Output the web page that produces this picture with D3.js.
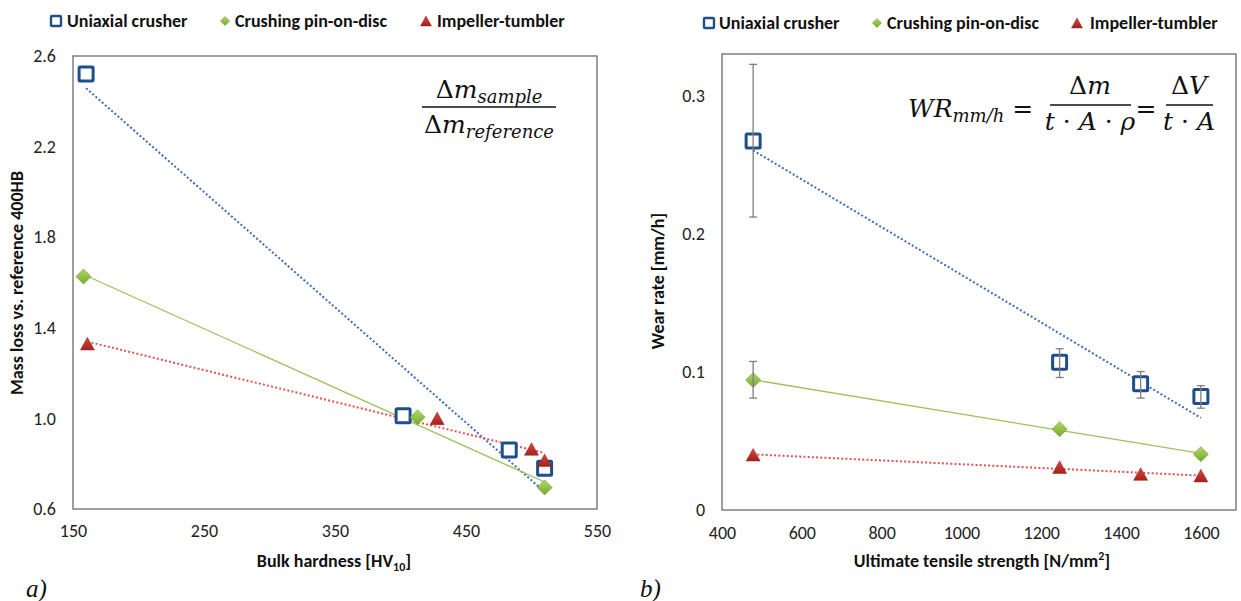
<!DOCTYPE html>
<html lang="en">
<head>
<meta charset="UTF-8">
<title>Wear vs hardness / tensile strength</title>
<script src="https://cdn.jsdelivr.net/npm/d3@7"></script>
<style>
    body { margin: 0; background: #fff; }
    svg { display: block; }
    .tick text { font-family: Carlito, Lato, "Open Sans", sans-serif; font-size: 18px; fill: #222; }
    .axis-title { font-family: Carlito, Lato, "Open Sans", sans-serif; font-size: 18px; font-weight: bold; fill: #111; }
    .legend text { font-family: Carlito, Lato, "Open Sans", sans-serif; font-size: 18px; font-weight: bold; fill: #111; }
    .formula { font-family: "DejaVu Serif", "Liberation Serif", serif; fill: #111; }
    .panel-label { font-family: "Liberation Serif", "DejaVu Serif", serif; font-style: italic; font-size: 25px; fill: #111; }
</style>
</head>
<body>
<svg id="chart" width="1241" height="601"></svg>
<script>
// ---- data, panel a) mass loss vs bulk hardness
const seriesNames = ["Uniaxial crusher", "Crushing pin-on-disc", "Impeller-tumbler"];

const hardnessUC = [160, 402, 483, 510];
const massLossUC = [2.52, 1.012, 0.86, 0.78];
const hardnessCP = [158, 413, 510];
const massLossCP = [1.626, 1.005, 0.695];
const hardnessIT = [161, 428, 500, 510];
const massLossIT = [1.33, 1.0, 0.865, 0.815];

const hardnessTicks = [150, 250, 350, 450, 550];
const massLossTicks = [0.6, 1.0, 1.4, 1.8, 2.2, 2.6];

// ---- data, panel b) wear rate vs ultimate tensile strength
const utsUC = [478, 1246, 1449, 1600];
const wearUC = [0.267, 0.107, 0.0913, 0.0821];
const wearUCHigh = [0.3225, 0.1167, 0.1002, 0.090];
const wearUCLow = [0.212, 0.0959, 0.081, 0.0737];
const utsCP = [478, 1246, 1600];
const wearCP = [0.094, 0.0585, 0.0404];
const wearCPHigh = [0.1075, null, null];
const wearCPLow = [0.081, null, null];
const utsIT = [478, 1246, 1449, 1600];
const wearIT = [0.040, 0.031, 0.026, 0.0249];

const utsTicks = [400, 600, 800, 1000, 1200, 1400, 1600];
const wearTicks = [0, 0.1, 0.2, 0.3];

const svg = d3.select("#chart");

// gradients for the filled markers (Excel-ish look)
const defs = svg.append("defs");
function grad(id, c1, c2) {
    const g = defs.append("linearGradient").attr("id", id)
        .attr("x1", 0).attr("y1", 0).attr("x2", 0).attr("y2", 1);
    g.append("stop").attr("offset", "0%").attr("stop-color", c1);
    g.append("stop").attr("offset", "100%").attr("stop-color", c2);
}
grad("gGreen", "#b0da62", "#76a832");
grad("gRed", "#d9473f", "#a2221c");

const blue = "#1f4e8d";
const styles = [
    { marker: "square", trend: "#3d6db5", dash: "2,2.2", width: 2 },
    { marker: "diamond", trend: "#9cc25c", dash: null, width: 1.3 },
    { marker: "triangle", trend: "#e05252", dash: "2,2.2", width: 2 }
];

// least squares line
function fit(xs, ys) {
    const mx = d3.mean(xs), my = d3.mean(ys);
    const sxy = d3.sum(xs, (x, i) => (x - mx) * (ys[i] - my));
    const sxx = d3.sum(xs, x => (x - mx) * (x - mx));
    const b = sxy / sxx;
    return x => my + b * (x - mx);
}

function drawMarker(g, type, x, y, size) {
    if (type === "square") {
        g.append("rect")
            .attr("x", x - size / 2).attr("y", y - size / 2)
            .attr("width", size).attr("height", size)
            .attr("fill", "#fff").attr("stroke", blue).attr("stroke-width", size > 10 ? 3 : 2.4)
            .attr("rx", 1);
    } else if (type === "diamond") {
        const r = size / 2;
        g.append("path")
            .attr("d", `M${x},${y - r}L${x + r},${y}L${x},${y + r}L${x - r},${y}Z`)
            .attr("fill", "url(#gGreen)").attr("stroke", "#6a9a2a").attr("stroke-width", 0.6);
    } else {
        const w = size, h = size * 0.9;
        g.append("path")
            .attr("d", `M${x},${y - h / 2}L${x + w / 2},${y + h / 2}L${x - w / 2},${y + h / 2}Z`)
            .attr("fill", "url(#gRed)").attr("stroke", "#9a1f1a").attr("stroke-width", 0.5);
    }
}

function drawLegend(items) {
    const g = svg.append("g").attr("class", "legend");
    items.forEach((it, i) => {
        drawMarker(g, styles[i].marker, it[0], it[2], i === 0 ? 10 : (i === 1 ? 9 : 11));
        g.append("text").attr("x", it[1]).attr("y", it[2] + 6).text(seriesNames[i]);
    });
}

function drawPanel(p) {
    const g = svg.append("g");
    const x = p.x, y = p.y;

    g.append("g")
        .attr("transform", `translate(0,${y.range()[0]})`)
        .call(d3.axisBottom(x).tickValues(p.xTicks).tickSize(0).tickPadding(p.xPad).tickFormat(p.xFormat))
        .call(a => a.select(".domain").remove());
    g.append("g")
        .attr("transform", `translate(${x.range()[0]},0)`)
        .call(d3.axisLeft(y).tickValues(p.yTicks).tickSize(0).tickPadding(p.yPad).tickFormat(p.yFormat))
        .call(a => a.select(".domain").remove());

    // plot frame
    g.append("rect")
        .attr("x", x.range()[0]).attr("y", y.range()[1])
        .attr("width", x.range()[1] - x.range()[0])
        .attr("height", y.range()[0] - y.range()[1])
        .attr("fill", "none").attr("stroke", "#6b6b6b").attr("stroke-width", 1.3);

    // trend lines
    p.series.forEach((s, i) => {
        const f = fit(s.xs, s.ys);
        const x0 = d3.min(s.xs), x1 = d3.max(s.xs);
        g.append("line")
            .attr("x1", x(x0)).attr("y1", y(f(x0)))
            .attr("x2", x(x1)).attr("y2", y(f(x1)))
            .attr("stroke", styles[i].trend)
            .attr("stroke-width", styles[i].width)
            .attr("stroke-dasharray", styles[i].dash);
    });

    // markers, then error bars on top
    p.series.forEach((s, i) => {
        s.xs.forEach((v, j) => drawMarker(g, styles[i].marker, x(v), y(s.ys[j]), i === 1 ? 15 : 14));
    });
    p.series.forEach(s => {
        if (!s.hi) return;
        s.xs.forEach((v, j) => {
            if (s.hi[j] == null) return;
            const cx = x(v);
            const eb = g.append("g").attr("stroke", "#7f7f7f").attr("stroke-width", 1.3);
            eb.append("line").attr("x1", cx).attr("x2", cx).attr("y1", y(s.hi[j])).attr("y2", y(s.lo[j]));
            [s.hi[j], s.lo[j]].forEach(e =>
                eb.append("line").attr("x1", cx - 4).attr("x2", cx + 4).attr("y1", y(e)).attr("y2", y(e)));
        });
    });
    return g;
}

// ---- panel a
const xa = d3.scaleLinear().domain([150, 550]).range([73, 597]);
const ya = d3.scaleLinear().domain([0.6, 2.6]).range([509, 56]);
drawPanel({
    x: xa, y: ya, xTicks: hardnessTicks, yTicks: massLossTicks,
    xFormat: d3.format("d"), yFormat: d3.format(".1f"), xPad: 15, yPad: 17,
    series: [
        { xs: hardnessUC, ys: massLossUC },
        { xs: hardnessCP, ys: massLossCP },
        { xs: hardnessIT, ys: massLossIT }
    ]
});

// ---- panel b
const xb = d3.scaleLinear().domain([400, 1688]).range([722, 1236]);
const yb = d3.scaleLinear().domain([0, 0.33]).range([510, 54]);
drawPanel({
    x: xb, y: yb, xTicks: utsTicks, yTicks: wearTicks,
    xFormat: d3.format("d"), yFormat: d => d === 0 ? "0" : d3.format(".1f")(d), xPad: 16, yPad: 17,
    series: [
        { xs: utsUC, ys: wearUC, hi: wearUCHigh, lo: wearUCLow },
        { xs: utsCP, ys: wearCP, hi: wearCPHigh, lo: wearCPLow },
        { xs: utsIT, ys: wearIT }
    ]
});

// ---- legends
drawLegend([[56, 67, 21], [225, 235, 21], [426, 437, 21]]);
drawLegend([[709, 719, 23], [877, 887, 23], [1077, 1090, 23]]);

// ---- axis titles
svg.append("text").attr("class", "axis-title")
    .attr("transform", "translate(23,283) rotate(-90)").attr("text-anchor", "middle")
    .text("Mass loss vs. reference 400HB");
const xta = svg.append("text").attr("class", "axis-title")
    .attr("x", 334).attr("y", 567).attr("text-anchor", "middle");
xta.append("tspan").text("Bulk hardness [HV");
xta.append("tspan").attr("font-size", "12px").attr("dy", 4).text("10");
xta.append("tspan").attr("dy", -4).text("]");

svg.append("text").attr("class", "axis-title")
    .attr("transform", "translate(664,281) rotate(-90)").attr("text-anchor", "middle")
    .text("Wear rate [mm/h]");
const xtb = svg.append("text").attr("class", "axis-title")
    .attr("x", 982).attr("y", 567).attr("text-anchor", "middle");
xtb.append("tspan").text("Ultimate tensile strength [N/mm");
xtb.append("tspan").attr("font-size", "12px").attr("dy", -7).text("2");
xtb.append("tspan").attr("dy", 7).text("]");

// ---- formulas
const fa = svg.append("g").attr("class", "formula");
const numA = fa.append("text").attr("x", 489).attr("y", 98).attr("text-anchor", "middle").attr("font-size", 25);
numA.append("tspan").text("Δ");
numA.append("tspan").attr("font-style", "italic").text("m");
numA.append("tspan").attr("font-style", "italic").attr("font-size", 18).attr("dy", 5).text("sample");
fa.append("line").attr("x1", 422).attr("x2", 556).attr("y1", 107).attr("y2", 107).attr("stroke", "#111").attr("stroke-width", 1.5);
const denA = fa.append("text").attr("x", 489).attr("y", 133).attr("text-anchor", "middle").attr("font-size", 25);
denA.append("tspan").text("Δ");
denA.append("tspan").attr("font-style", "italic").text("m");
denA.append("tspan").attr("font-style", "italic").attr("font-size", 18).attr("dy", 5).text("reference");

const fb = svg.append("g").attr("class", "formula").attr("font-size", 25);
const wr = fb.append("text").attr("x", 908).attr("y", 117);
wr.append("tspan").attr("font-style", "italic").text("WR");
wr.append("tspan").attr("font-style", "italic").attr("font-size", 18).attr("dy", 5).text("mm/h");
wr.append("tspan").attr("dy", -5).text(" = ");
fb.append("text").attr("x", 1090).attr("y", 94).attr("text-anchor", "middle")
    .html('Δ<tspan font-style="italic">m</tspan>');
fb.append("line").attr("x1", 1050).attr("x2", 1131).attr("y1", 105).attr("y2", 105).attr("stroke", "#111").attr("stroke-width", 1.5);
fb.append("text").attr("x", 1090).attr("y", 130).attr("text-anchor", "middle")
    .html('<tspan font-style="italic">t</tspan> · <tspan font-style="italic">A</tspan> · <tspan font-style="italic">ρ</tspan>');
fb.append("text").attr("x", 1146).attr("y", 117).attr("text-anchor", "middle").text("=");
fb.append("text").attr("x", 1189).attr("y", 94).attr("text-anchor", "middle")
    .html('Δ<tspan font-style="italic">V</tspan>');
fb.append("line").attr("x1", 1166).attr("x2", 1213).attr("y1", 105).attr("y2", 105).attr("stroke", "#111").attr("stroke-width", 1.5);
fb.append("text").attr("x", 1189).attr("y", 130).attr("text-anchor", "middle")
    .html('<tspan font-style="italic">t</tspan> · <tspan font-style="italic">A</tspan>');

// ---- panel labels
svg.append("text").attr("class", "panel-label").attr("x", 26).attr("y", 597).text("a)");
svg.append("text").attr("class", "panel-label").attr("x", 640).attr("y", 597).text("b)");
</script>
</body>
</html>
